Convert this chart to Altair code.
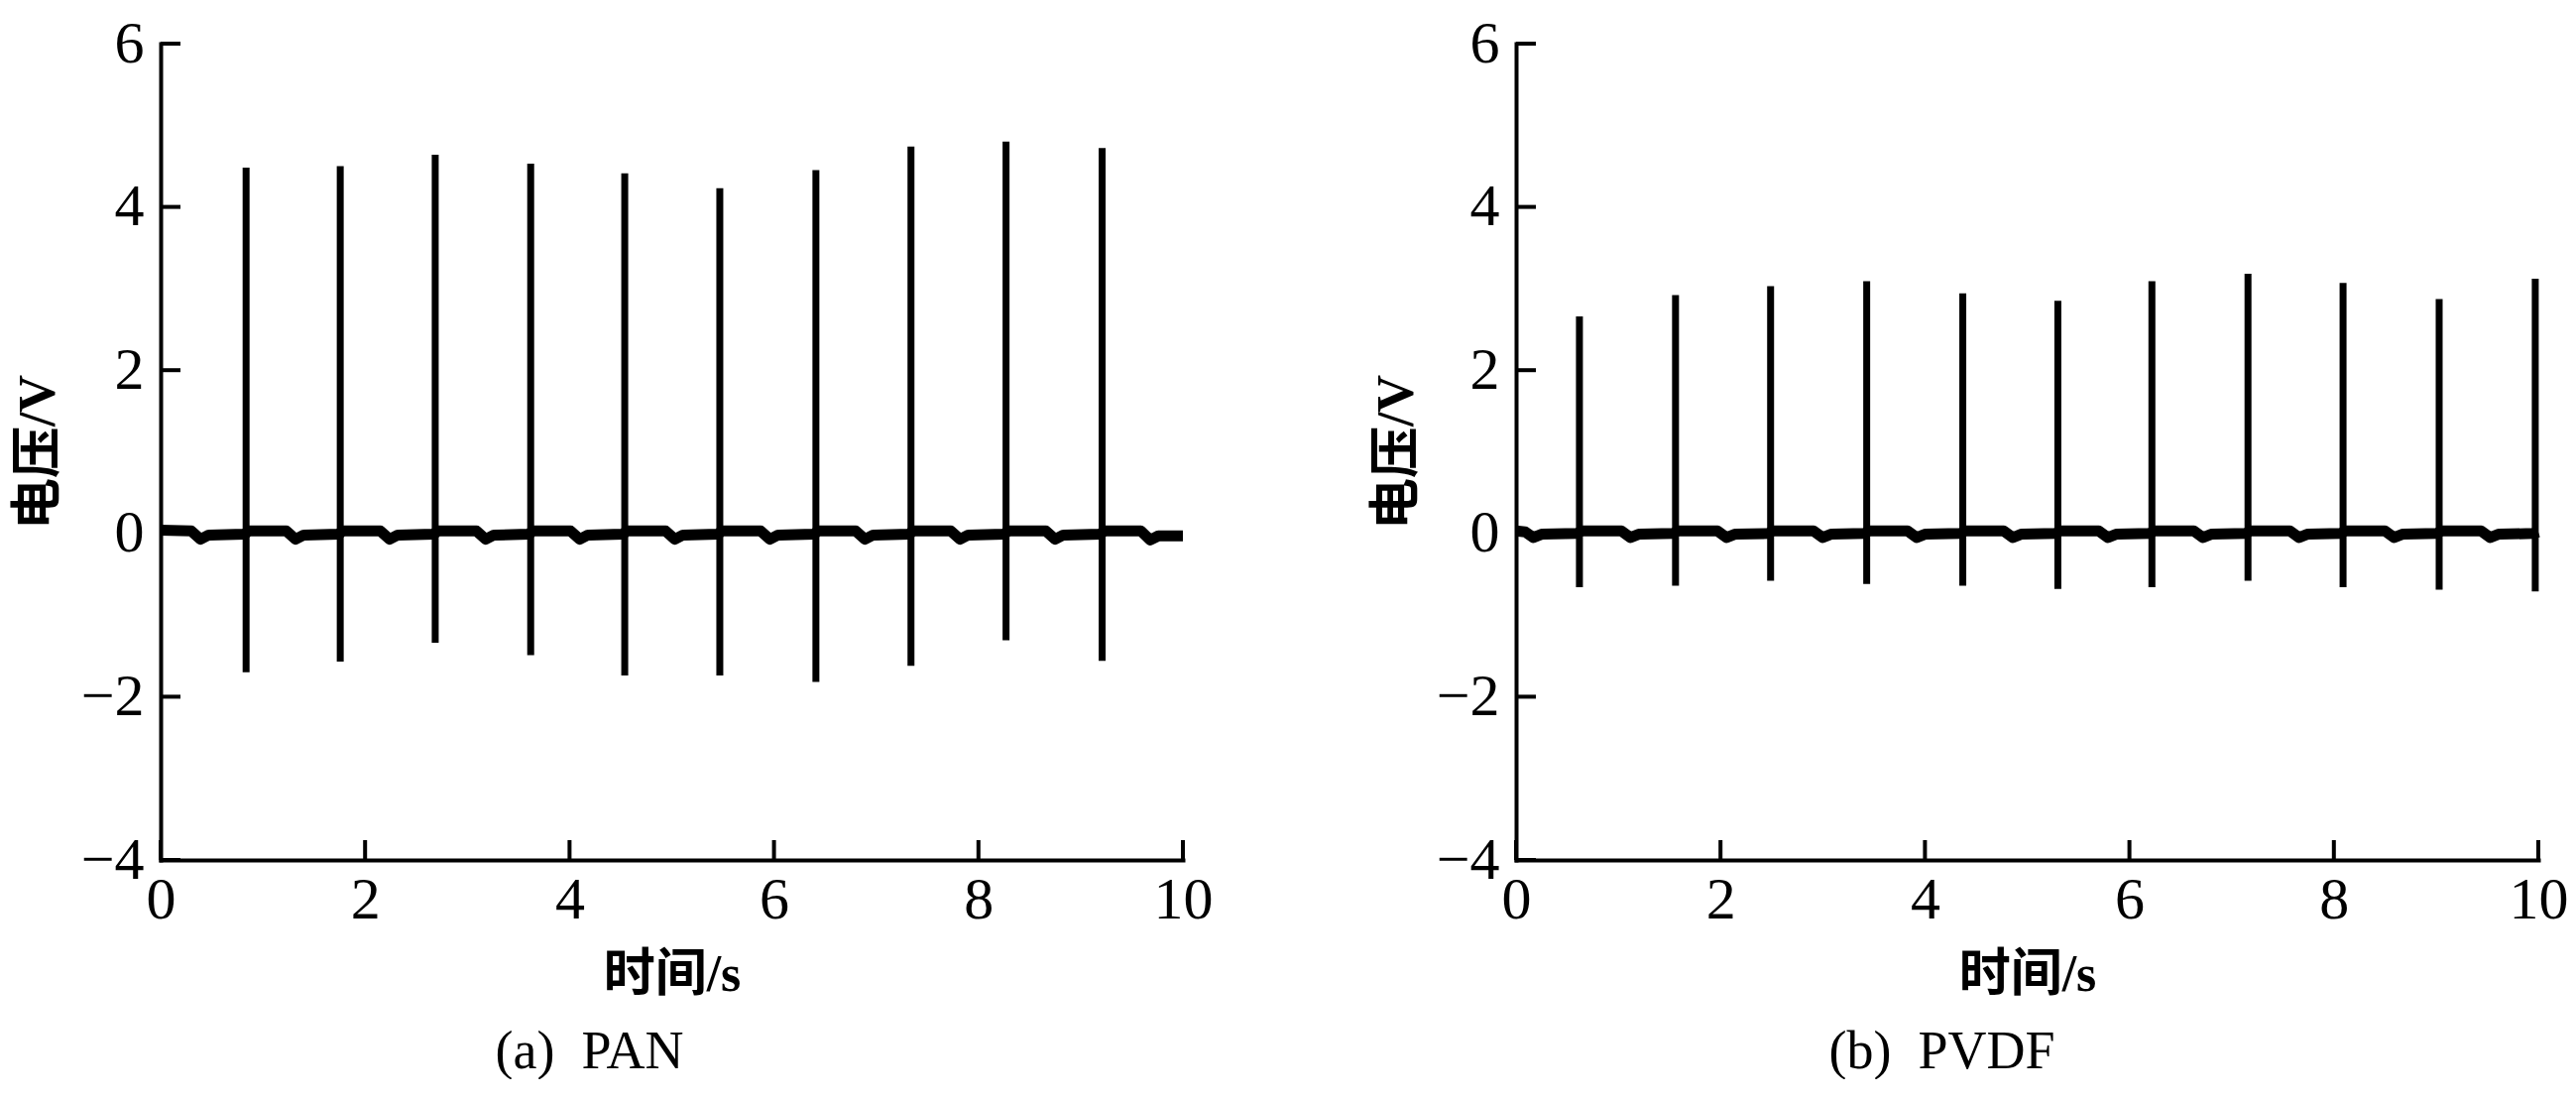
import altair as alt
import pandas as pd

FONT = "Liberation Serif, Noto Sans CJK SC"
W, H = 1031, 823

# ---------------- (a) PAN ----------------
pan_spike_t = [0.836, 1.757, 2.686, 3.620, 4.540, 5.470, 6.410, 7.340, 8.270, 9.210]
pan_spike_top = [4.48, 4.50, 4.64, 4.53, 4.41, 4.23, 4.45, 4.74, 4.80, 4.72]
pan_spike_bottom = [-1.70, -1.57, -1.34, -1.49, -1.74, -1.74, -1.82, -1.62, -1.31, -1.56]
pan_base_t = [0.00, 0.30, 0.39, 0.47, 0.82,
              0.86, 1.23, 1.32, 1.40, 1.74,
              1.78, 2.15, 2.24, 2.32, 2.67,
              2.71, 3.09, 3.18, 3.26, 3.60,
              3.64, 4.01, 4.10, 4.18, 4.52,
              4.56, 4.94, 5.03, 5.11, 5.45,
              5.49, 5.87, 5.96, 6.04, 6.39,
              6.43, 6.80, 6.89, 6.97, 7.32,
              7.36, 7.73, 7.82, 7.90, 8.25,
              8.29, 8.66, 8.75, 8.83, 9.19,
              9.23, 9.59, 9.68, 9.76, 10.00]
pan_base_v = [0.04, 0.03, -0.07, -0.02, -0.01,
              0.03, 0.03, -0.07, -0.02, -0.01,
              0.03, 0.03, -0.07, -0.02, -0.01,
              0.03, 0.03, -0.07, -0.02, -0.01,
              0.03, 0.03, -0.07, -0.02, -0.01,
              0.03, 0.03, -0.07, -0.02, -0.01,
              0.03, 0.03, -0.07, -0.02, -0.01,
              0.03, 0.03, -0.07, -0.02, -0.01,
              0.03, 0.03, -0.07, -0.02, -0.01,
              0.03, 0.03, -0.07, -0.02, -0.01,
              0.03, 0.03, -0.08, -0.03, -0.03]

# ---------------- (b) PVDF ----------------
pvdf_spike_t = [0.62, 1.56, 2.49, 3.43, 4.37, 5.30, 6.22, 7.16, 8.09, 9.03, 9.97]
pvdf_spike_top = [2.66, 2.92, 3.03, 3.09, 2.94, 2.85, 3.09, 3.18, 3.07, 2.87, 3.12]
pvdf_spike_bottom = [-0.66, -0.64, -0.58, -0.62, -0.64, -0.68, -0.66, -0.58, -0.66, -0.69, -0.71]
pvdf_base_t = [0.00, 0.09, 0.17, 0.25, 0.60,
               0.64, 1.03, 1.12, 1.20, 1.54,
               1.58, 1.97, 2.06, 2.14, 2.47,
               2.51, 2.91, 3.00, 3.08, 3.41,
               3.45, 3.83, 3.92, 4.00, 4.35,
               4.39, 4.77, 4.86, 4.94, 5.28,
               5.32, 5.70, 5.79, 5.87, 6.20,
               6.24, 6.63, 6.72, 6.80, 7.14,
               7.18, 7.57, 7.66, 7.74, 8.07,
               8.11, 8.50, 8.59, 8.67, 9.01,
               9.05, 9.44, 9.53, 9.61, 9.95,
               10.00]
pvdf_base_v = [0.03, 0.02, -0.05, -0.01, 0.00,
               0.03, 0.03, -0.05, -0.01, 0.00,
               0.03, 0.03, -0.05, -0.01, 0.00,
               0.03, 0.03, -0.05, -0.01, 0.00,
               0.03, 0.03, -0.05, -0.01, 0.00,
               0.03, 0.03, -0.05, -0.01, 0.00,
               0.03, 0.03, -0.05, -0.01, 0.00,
               0.03, 0.03, -0.05, -0.01, 0.00,
               0.03, 0.03, -0.05, -0.01, 0.00,
               0.03, 0.03, -0.05, -0.01, 0.00,
               0.03, 0.03, -0.05, -0.01, 0.00,
               0.02]

x_ticks = [0, 2, 4, 6, 8, 10]
y_ticks = [-4, -2, 0, 2, 4, 6]
x_title = "时间/s"
y_title = "电压/V"


def panel(base_t, base_v, sp_t, sp_top, sp_bot, caption, ytitle_x, cap_dx):
    xs = alt.Scale(domain=[0, 10], nice=False, zero=False)
    ys = alt.Scale(domain=[-4, 6], nice=False, zero=False)
    common = dict(tickSize=0, grid=False, domainColor="black", domainWidth=4,
                  domainCap="square", labelFont=FONT, titleFont=FONT,
                  labelFontSize=60, titleFontSize=52, labelColor="black",
                  titleColor="black", titleFontWeight="bold", format="d",
                  labelFlush=False, labelOverlap=False)
    xaxis = alt.Axis(values=x_ticks, title=x_title, labelPadding=11,
                     titleY=115, titleBaseline="middle", **common)
    yaxis = alt.Axis(values=y_ticks, title=y_title, labelPadding=17,
                     titleX=ytitle_x, titleBaseline="middle", **common)

    base_df = pd.DataFrame({"t": base_t, "v": base_v})
    spike_df = pd.DataFrame({"t": sp_t, "top": sp_top, "bottom": sp_bot})
    yt_df = pd.DataFrame({"v": y_ticks})
    xt_df = pd.DataFrame({"t": x_ticks})

    baseline = alt.Chart(base_df).mark_line(color="black", strokeWidth=11,
                                            strokeJoin="round").encode(
        x=alt.X("t:Q", scale=xs, axis=xaxis),
        y=alt.Y("v:Q", scale=ys, axis=yaxis),
    )
    spikes = alt.Chart(spike_df).mark_rule(color="black", strokeWidth=7).encode(
        x=alt.X("t:Q", scale=xs, axis=xaxis),
        y=alt.Y("bottom:Q", scale=ys, axis=yaxis),
        y2="top:Q",
    )
    yticks = alt.Chart(yt_df).mark_rule(color="black", strokeWidth=4).encode(
        y=alt.Y("v:Q", scale=ys, axis=yaxis),
        x=alt.value(0), x2=alt.value(20),
    )
    xticks = alt.Chart(xt_df).mark_rule(color="black", strokeWidth=4).encode(
        x=alt.X("t:Q", scale=xs, axis=xaxis),
        y=alt.value(H), y2=alt.value(H - 20),
    )
    return alt.layer(baseline, spikes, yticks, xticks).properties(
        width=W, height=H,
        title=alt.TitleParams(text=caption, orient="bottom", anchor="middle",
                              frame="group", dx=cap_dx, offset=26,
                              fontSize=54, font=FONT, fontWeight="normal",
                              color="black"),
    )


pa = panel(pan_base_t, pan_base_v, pan_spike_t, pan_spike_top, pan_spike_bottom,
           "(a)\u00a0\u00a0PAN", -124, -83)
pb = panel(pvdf_base_t, pvdf_base_v, pvdf_spike_t, pvdf_spike_top, pvdf_spike_bottom,
           "(b)\u00a0\u00a0PVDF", -121, -86)

chart = alt.hconcat(pa, pb, spacing=336, bounds="flush").properties(
    padding={"left": 4, "top": 6, "right": 0, "bottom": 0},
    background="white",
).configure_view(stroke=None)

chart.save("out.html", embed_options={"renderer": "svg", "actions": False})
